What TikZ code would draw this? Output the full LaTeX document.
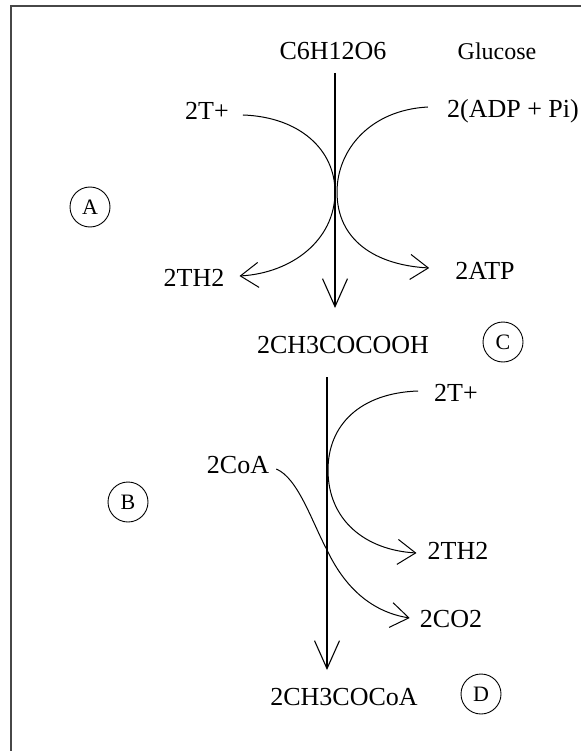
\documentclass[tikz,border=0pt]{standalone}
\usepackage{fontspec}
\setmainfont{Liberation Serif}
\usetikzlibrary{arrows.meta}

\begin{document}
\begin{tikzpicture}[x=1pt, y=-1pt,
    every node/.style={inner sep=0pt, font=\fontsize{26}{30}\selectfont},
    flow/.style={line width=1.1pt, -{Straight Barb[length=28pt,width=25pt]}},
    side/.style={line width=1pt, -{Straight Barb[length=18pt,width=25pt]}},
    stage/.style={draw, circle, minimum size=40pt, line width=0.9pt, font=\fontsize{22}{26}\selectfont}]
  \useasboundingbox (0,0) rectangle (581,751);
  \draw[line width=2pt, black!72] (11,751) -- (11,6) -- (581,6);

  % compounds
  \node (glu) at (333,51) {C6H12O6};
  \node[font=\fontsize{24}{28}\selectfont] (gluname) at (497,51) {Glucose};
  \node (tpA) at (207,111) {2T+};
  \node (adp) at (513,111) {2(ADP + Pi)};
  \node (thA) at (194,278) {2TH2};
  \node (atp) at (485,271) {2ATP};
  \node (pyr) at (343,345) {2CH3COCOOH};
  \node (tpB) at (456,393) {2T+};
  \node (coa) at (238,465) {2CoA};
  \node (thB) at (458,551) {2TH2};
  \node (co2) at (451,619) {2CO2};
  \node (acc) at (344,697) {2CH3COCoA};

  % stages
  \node[stage] (stA) at (90,207) {A};
  \node[stage] (stB) at (128,502) {B};
  \node[stage] (stC) at (503,342) {C};
  \node[stage] (stD) at (481,694) {D};

  % glycolysis
  \draw[flow] ([xshift=2pt,yshift=-22pt]glu.center) -- ([xshift=-8pt,yshift=37pt]pyr.center);
  \draw[side] ([xshift=14pt,yshift=-4pt]tpA.east) .. controls (300,117) and (335,150) .. (335,192)
    .. controls (335,240) and (292,273) .. ([xshift=15pt,yshift=2pt]thA.east);
  \draw[side] ([xshift=-19pt,yshift=4pt]adp.west) .. controls (370,110) and (337,150) .. (337,192)
    .. controls (337,240) and (375,265) .. ([xshift=-26pt,yshift=3pt]atp.west);

  % pyruvate oxidation
  \draw[flow] ([xshift=-16pt,yshift=-32pt]pyr.center) -- ([xshift=-17pt,yshift=27pt]acc.center);
  \draw[side] ([xshift=-16pt,yshift=2pt]tpB.west) .. controls (360,393) and (328,425) .. (328,470)
    .. controls (328,520) and (365,550) .. ([xshift=-11pt,yshift=-2pt]thB.west);
  \draw[side] ([xshift=7pt,yshift=-4pt]coa.east) .. controls (298,478) and (312,522) .. (327,550)
    .. controls (345,588) and (372,612) .. ([xshift=-10pt,yshift=1pt]co2.west);
\end{tikzpicture}
\end{document}
